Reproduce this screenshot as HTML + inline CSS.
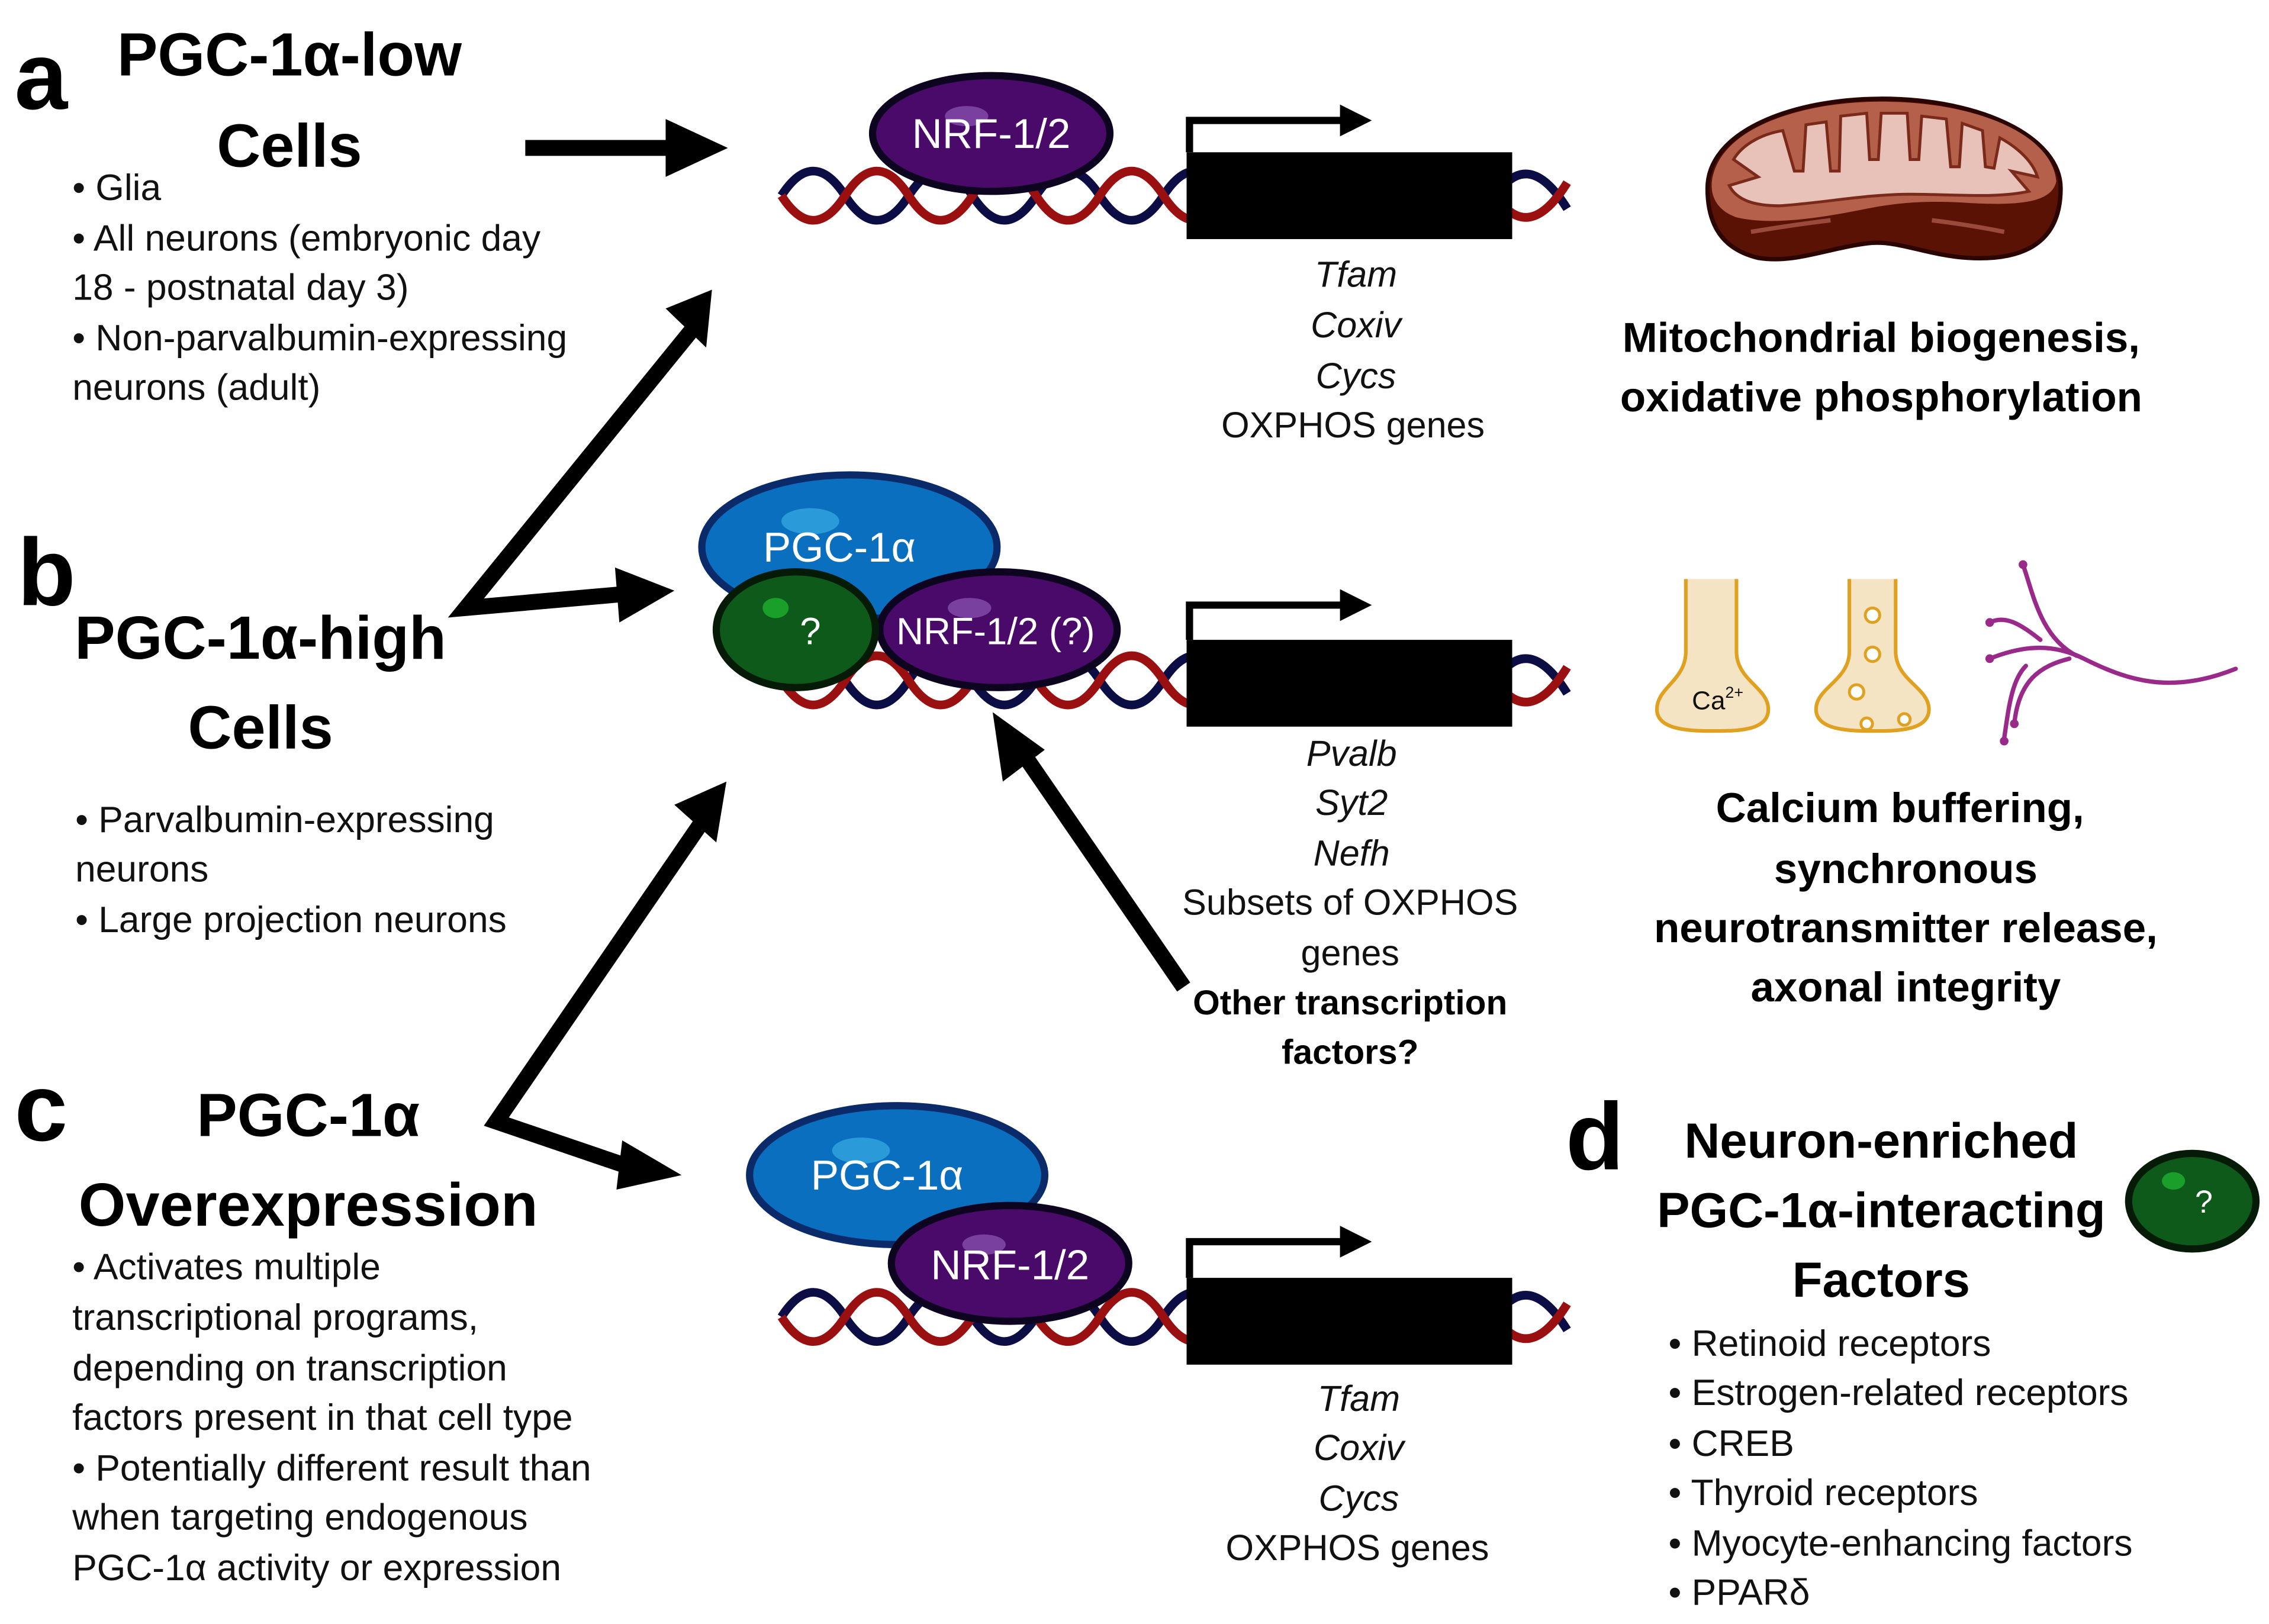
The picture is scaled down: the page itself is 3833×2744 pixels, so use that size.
<!DOCTYPE html>
<html><head><meta charset="utf-8"><style>html,body{margin:0;padding:0;background:#fff}svg{display:block}</style></head>
<body>
<svg width="3833" height="2744" viewBox="0 0 1568 1122" xmlns="http://www.w3.org/2000/svg" font-family="Liberation Sans, sans-serif">
<defs>
<g id="dnaL">
<path d="M540 0 q22 -34 44 0 t44 0 t44 0 t44 0 t44 0 t44 0 t44 0" fill="none" stroke="#0d0d45" stroke-width="6"/>
<path d="M540 0 q22 34 44 0 t44 0 t44 0 t44 0 t44 0 t44 0 t44 0" fill="none" stroke="#9a1010" stroke-width="6"/>
<path d="M1040 -8 q20 -20 43 17" fill="none" stroke="#0d0d45" stroke-width="6"/>
<path d="M1040 8 q20 20 43 -17" fill="none" stroke="#9a1010" stroke-width="6"/>
</g>
</defs>
<rect width="1568" height="1122" fill="#fff"/>

<use href="#dnaL" y="135"/>
<use href="#dnaL" y="470"/>
<use href="#dnaL" y="910"/>
<g fill="#000">
<rect x="820" y="105" width="225" height="60"/>
<rect x="820" y="442" width="225" height="60"/>
<rect x="820" y="883" width="225" height="60"/>
</g>
<g fill="none" stroke="#000" stroke-width="5">
<path d="M822 105 V83 H930"/><path d="M822 442 V418 H930"/><path d="M822 883 V858 H930"/>
</g>
<g fill="#000">
<polygon points="926,72 948,83 926,94"/><polygon points="926,407 948,418 926,429"/><polygon points="926,847 948,858 926,869"/>
</g>

<ellipse cx="685" cy="92" rx="82" ry="40" fill="#4a0a6a" stroke="#0d0520" stroke-width="5"/>
<ellipse cx="668" cy="80" rx="15" ry="7" fill="#7a40a0"/>
<text x="685" y="102" font-size="29" fill="#fff" text-anchor="middle">NRF-1/2</text>

<ellipse cx="587" cy="378" rx="102" ry="50" fill="#0b6fc0" stroke="#0a2a6a" stroke-width="5"/>
<ellipse cx="560" cy="360" rx="20" ry="9" fill="#2a9ad8"/>
<text x="580" y="388" font-size="29" fill="#fff" text-anchor="middle">PGC-1α</text>
<ellipse cx="690" cy="435" rx="82" ry="40" fill="#4a0a6a" stroke="#0d0520" stroke-width="5"/>
<ellipse cx="670" cy="420" rx="15" ry="7" fill="#7a40a0"/>
<text x="688" y="445" font-size="26" fill="#fff" text-anchor="middle">NRF-1/2 (?)</text>
<ellipse cx="550" cy="435" rx="55" ry="40" fill="#0d5a1a" stroke="#061a08" stroke-width="5"/>
<ellipse cx="536" cy="420" rx="9" ry="7" fill="#1aa02a"/>
<text x="560" y="445" font-size="26" fill="#fff" text-anchor="middle">?</text>

<ellipse cx="620" cy="812" rx="102" ry="48" fill="#0b6fc0" stroke="#0a2a6a" stroke-width="5"/>
<ellipse cx="595" cy="795" rx="20" ry="9" fill="#2a9ad8"/>
<text x="613" y="822" font-size="29" fill="#fff" text-anchor="middle">PGC-1α</text>
<ellipse cx="698" cy="873" rx="82" ry="40" fill="#4a0a6a" stroke="#0d0520" stroke-width="5"/>
<ellipse cx="680" cy="860" rx="15" ry="7" fill="#7a40a0"/>
<text x="698" y="884" font-size="29" fill="#fff" text-anchor="middle">NRF-1/2</text>

<g stroke="#000" stroke-width="11" fill="none" stroke-linejoin="miter">
<line x1="363" y1="102" x2="470" y2="102"/>
<polyline points="478,228 322,420 435,410"/>
<polyline points="485,568 343,775 440,808"/>
<line x1="818" y1="682" x2="708" y2="522"/>
</g>
<g fill="#000">
<polygon points="460,82 503,102 460,122"/>
<polygon points="460,213 492,200 488,240"/>
<polygon points="425,392 466,408 428,430"/>
<polygon points="466,556 502,540 495,582"/>
<polygon points="430,788 471,812 426,822"/>
<polygon points="686,492 722,518 693,540"/>
</g>

<g fill="#000" font-weight="bold">
<text x="10" y="75" font-size="66">a</text>
<text x="200" y="52" font-size="42" text-anchor="middle">PGC-1α-low</text>
<text x="200" y="115" font-size="42" text-anchor="middle">Cells</text>
<text x="12" y="418" font-size="66">b</text>
<text x="180" y="455" font-size="42" text-anchor="middle">PGC-1α-high</text>
<text x="180" y="517" font-size="42" text-anchor="middle">Cells</text>
<text x="10" y="788" font-size="66">c</text>
<text x="213" y="785" font-size="42" text-anchor="middle">PGC-1α</text>
<text x="213" y="847" font-size="42" text-anchor="middle">Overexpression</text>
<text x="1082" y="808" font-size="66">d</text>
<text x="1300" y="800" font-size="34" text-anchor="middle">Neuron-enriched</text>
<text x="1300" y="848" font-size="34" text-anchor="middle">PGC-1α-interacting</text>
<text x="1300" y="896" font-size="34" text-anchor="middle">Factors</text>
<text x="1300" y="243" font-size="29" text-anchor="middle">Mitochondrial biogenesis,</text>
<text x="1300" y="284" font-size="29" text-anchor="middle">oxidative phosphorylation</text>
<text x="1313" y="568" font-size="29" text-anchor="middle">Calcium buffering,</text>
<text x="1317" y="610" font-size="29" text-anchor="middle">synchronous</text>
<text x="1317" y="651" font-size="29" text-anchor="middle">neurotransmitter release,</text>
<text x="1317" y="692" font-size="29" text-anchor="middle">axonal integrity</text>
<text x="933" y="701" font-size="24" text-anchor="middle">Other transcription</text>
<text x="933" y="735" font-size="24" text-anchor="middle">factors?</text>
</g>
<g fill="#111" font-size="25.5">
<text x="50" y="138">• Glia</text>
<text x="50" y="173">• All neurons  (embryonic day</text>
<text x="50" y="207">18 - postnatal day 3)</text>
<text x="50" y="242">• Non-parvalbumin-expressing</text>
<text x="50" y="276">neurons (adult)</text>
<text x="52" y="575">• Parvalbumin-expressing</text>
<text x="52" y="609">neurons</text>
<text x="52" y="644">• Large projection neurons</text>
<text x="50" y="884">• Activates multiple</text>
<text x="50" y="919">transcriptional programs,</text>
<text x="50" y="954">depending on transcription</text>
<text x="50" y="988">factors present in that cell type</text>
<text x="50" y="1023">• Potentially different result than</text>
<text x="50" y="1057">when targeting endogenous</text>
<text x="50" y="1092">PGC-1α activity or expression</text>
<text x="1153" y="937">• Retinoid receptors</text>
<text x="1153" y="971">• Estrogen-related receptors</text>
<text x="1153" y="1006">• CREB</text>
<text x="1153" y="1040">• Thyroid receptors</text>
<text x="1153" y="1075">• Myocyte-enhancing factors</text>
<text x="1153" y="1109">• PPARδ</text>
</g>
<g fill="#111" font-size="25" text-anchor="middle">
<text x="937" y="198" font-style="italic">Tfam</text>
<text x="937" y="233" font-style="italic">Coxiv</text>
<text x="937" y="268" font-style="italic">Cycs</text>
<text x="935" y="302">OXPHOS genes</text>
<text x="934" y="529" font-style="italic">Pvalb</text>
<text x="934" y="563" font-style="italic">Syt2</text>
<text x="934" y="598" font-style="italic">Nefh</text>
<text x="933" y="632">Subsets of OXPHOS</text>
<text x="933" y="667">genes</text>
<text x="939" y="975" font-style="italic">Tfam</text>
<text x="939" y="1009" font-style="italic">Coxiv</text>
<text x="939" y="1044" font-style="italic">Cycs</text>
<text x="938" y="1078">OXPHOS genes</text>
</g>

<ellipse cx="1515" cy="830" rx="44" ry="33" fill="#0d5a1a" stroke="#061a08" stroke-width="5"/>
<ellipse cx="1502" cy="816" rx="8" ry="6" fill="#1aa02a"/>
<text x="1523" y="838" font-size="22" fill="#fff" text-anchor="middle">?</text>

<!-- mitochondrion -->
<path d="M1180 130 C1180 90 1240 68 1300 68 C1370 68 1424 95 1424 130 C1424 170 1395 180 1360 178 C1330 176 1310 165 1290 168 C1260 172 1240 182 1215 178 C1190 172 1180 155 1180 130Z" fill="#5a1205" stroke="#2a0502" stroke-width="3"/>
<path d="M1183 125 C1188 88 1245 70 1300 70 C1365 70 1418 92 1421 125 C1418 140 1395 142 1360 140 C1330 138 1310 140 1290 144 C1260 150 1225 156 1200 150 C1186 145 1182 135 1183 125Z" fill="#b5604a"/>
<path d="M1195 128 L1215 122 L1198 110 C1205 98 1220 92 1232 90 L1240 118 L1246 118 L1248 86 L1262 84 L1265 118 L1271 118 L1272 80 L1290 78 L1292 110 L1298 110 L1300 78 L1318 78 L1320 110 L1326 110 L1328 80 L1345 82 L1348 115 L1354 115 L1356 85 L1370 90 L1372 115 L1378 116 L1382 95 C1395 102 1405 112 1408 122 L1390 118 L1402 132 C1380 137 1350 134 1320 134 C1290 134 1260 140 1230 142 C1212 142 1200 138 1195 128Z" fill="#e8c2b8" stroke="#7a2a1a" stroke-width="2"/>
<path d="M1210 160 Q1240 155 1265 152" stroke="#9a4a3a" stroke-width="3" fill="none"/>
<path d="M1335 152 Q1360 155 1385 160" stroke="#9a4a3a" stroke-width="3" fill="none"/>

<path d="M1165 400 L1165 450 C1165 470 1145 475 1145 490 C1145 505 1170 505 1185 505 C1200 505 1222 505 1222 490 C1222 475 1200 470 1200 450 L1200 400" fill="#f4e4c4" stroke="#e0a020" stroke-width="2.5"/>
<text x="1187" y="490" font-size="18" text-anchor="middle" fill="#111">Ca<tspan font-size="11" dy="-8">2+</tspan></text>
<path d="M1278 400 L1278 450 C1278 470 1255 475 1255 490 C1255 505 1280 505 1295 505 C1310 505 1333 505 1333 490 C1333 475 1310 470 1310 450 L1310 400" fill="#f4e4c4" stroke="#e0a020" stroke-width="2.5"/>
<g fill="#fff" stroke="#e0a020" stroke-width="2"><circle cx="1294" cy="425" r="5"/><circle cx="1294" cy="452" r="5"/><circle cx="1283" cy="478" r="5"/><circle cx="1290" cy="500" r="4"/><circle cx="1316" cy="497" r="4"/></g>
<g fill="none" stroke="#9a2a8a" stroke-width="3" stroke-linecap="round">
<path d="M1545 462 C1500 480 1470 470 1440 455 C1420 445 1400 445 1375 455"/>
<path d="M1435 453 C1410 440 1405 410 1398 390"/>
<path d="M1410 442 C1395 430 1385 425 1375 430"/>
<path d="M1430 455 C1410 460 1395 470 1392 500"/>
<path d="M1400 460 C1390 470 1388 490 1385 510"/>
</g>
<g fill="#9a2a8a"><circle cx="1398" cy="390" r="3"/><circle cx="1375" cy="430" r="3"/><circle cx="1375" cy="455" r="3"/><circle cx="1392" cy="500" r="3"/><circle cx="1385" cy="512" r="3"/></g>
</svg>
</body></html>
